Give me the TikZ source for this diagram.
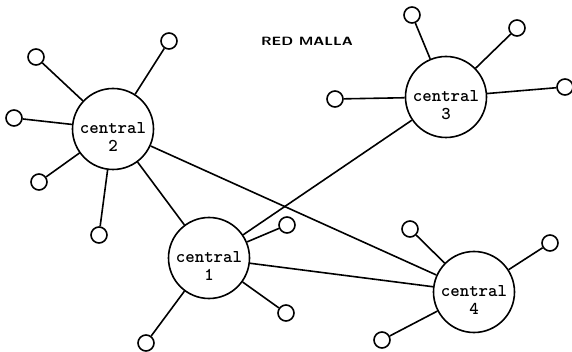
\documentclass[tikz,border=0pt]{standalone}
\usepackage{tikz}

\tikzset{
	hub/.style={circle,draw,line width=1.6pt,minimum size=81pt,inner sep=0pt},
	hubtext/.style={font=\ttfamily\bfseries\fontsize{18}{18}\selectfont,align=center,yshift=-8pt},
	sat/.style={circle,draw,line width=1.6pt,minimum size=16pt,inner sep=0pt},
	link/.style={line width=1.6pt}
}

\begin{document}
\begin{tikzpicture}[x=1pt,y=-1pt]
		
		% we fix the page to the size of the reference
		\useasboundingbox (0,0) rectangle (572,352);
		
		% we draw the four central offices
		\node[hub,label={[hubtext]center:central\\1}] (c1) at (209,258) {};
		\node[hub,label={[hubtext]center:central\\2}] (c2) at (113,129) {};
		\node[hub,label={[hubtext]center:central\\3}] (c3) at (446,97) {};
		\node[hub,label={[hubtext]center:central\\4}] (c4) at (474,292) {};
		
		% we draw the trunk lines of the mesh
		\draw[link] (c2) -- (c4);
		\draw[link] (c2) -- (c1);
		\draw[link] (c1) -- (c3);
		\draw[link] (c1) -- (c4);
		
		% we draw the subscribers around each central and join them
		\foreach \hub/\n/\px/\py in {
			c2/1/36/57, c2/2/169/41, c2/3/14/118, c2/4/39/182, c2/5/99/235,
			c3/1/412/15, c3/2/517/28, c3/3/565/87, c3/4/335/99,
			c1/1/287/225, c1/2/286/313, c1/3/146/343,
			c4/1/410/229, c4/2/550/243, c4/3/382/340}
		{
			\node[sat] (\hub-\n) at (\px,\py) {};
			\draw[link] (\hub) -- (\hub-\n);
		}
		
		% we place the title
		\node[font=\sffamily\bfseries\fontsize{12}{12}\selectfont,xscale=1.25] (title) at (307,41) {RED MALLA};
		
	\end{tikzpicture}
\end{document}
